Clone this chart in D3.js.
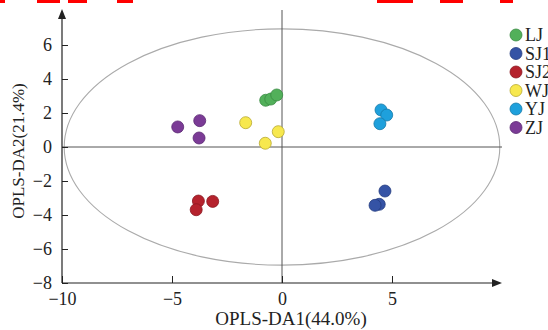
<!DOCTYPE html>
<html><head><meta charset="utf-8">
<script src="https://cdn.jsdelivr.net/npm/d3@7"></script>
<style>body{margin:0;background:#fff}svg{display:block}text{font-family:"Liberation Serif","Times New Roman",serif;fill:#222}</style>
</head><body><svg id="c" width="548" height="330"></svg>
<script>
const groups = ["LJ","SJ1","SJ2","WJ","YJ","ZJ"];
const colors = ["#52b05a","#3553a5","#b5222d","#f7e84e","#1ea0dc","#7b3b96"];
const strokes = ["#3a8a42","#243c80","#8a1620","#b8a830","#1478a8","#5a2872"];
const xs = {
  LJ:[-0.74,-0.51,-0.24], SJ1:[4.68,4.42,4.23], SJ2:[-3.80,-3.15,-3.90],
  WJ:[-1.65,-0.17,-0.76], YJ:[4.50,4.76,4.45], ZJ:[-4.74,-3.74,-3.77]
};
const ys = {
  LJ:[2.75,2.82,3.06], SJ1:[-2.59,-3.37,-3.43], SJ2:[-3.18,-3.20,-3.69],
  WJ:[1.43,0.90,0.22], YJ:[2.18,1.88,1.37], ZJ:[1.18,1.55,0.53]
};
const xTicks = [-10,-5,0,5];
const yTicks = [-8,-6,-4,-2,0,2,4,6];
const ellipseR = [9.9, 6.95];
const xTitle = "OPLS-DA1(44.0%)";
const yTitle = "OPLS-DA2(21.4%)";
const redBars = [[0,5],[37,60],[68,87],[117,133],[377,413],[440,463],[500,513]];

const svg = d3.select("#c");
const x = d3.scaleLinear().domain([-10,10]).range([62,502]);
const y = d3.scaleLinear().domain([-8,8]).range([283,11]);

svg.selectAll("rect.red").data(redBars).join("rect").attr("class","red")
  .attr("x",d=>d[0]).attr("y",0).attr("width",d=>d[1]-d[0]).attr("height",3).attr("fill","#f00");

svg.append("ellipse").attr("cx",x(0)).attr("cy",y(0))
  .attr("rx",x(ellipseR[0])-x(0)).attr("ry",y(0)-y(ellipseR[1]))
  .attr("fill","none").attr("stroke","#aaa").attr("stroke-width",1.1);

svg.append("line").attr("x1",x(0)).attr("x2",x(0)).attr("y1",y(8)-1).attr("y2",y(-8))
  .attr("stroke","#555").attr("stroke-width",1);
svg.append("line").attr("x1",x(-10)).attr("x2",x(10)).attr("y1",y(0)).attr("y2",y(0))
  .attr("stroke","#555").attr("stroke-width",1);

const xAxis = d3.axisBottom(x).tickValues(xTicks).tickSizeInner(-7).tickSizeOuter(0)
  .tickFormat(d=>d<0?"\u2212"+Math.abs(d):d).tickPadding(9);
const gx = svg.append("g").attr("transform",`translate(0,${y(-8)})`).call(xAxis);
gx.select(".domain").attr("d",`M${x(-10)},0H${x(10)-8}`).attr("stroke","#222").attr("stroke-width",1.2);
gx.selectAll(".tick line").attr("stroke","#222");
gx.selectAll("text").attr("font-size",18).attr("font-family","Liberation Serif").attr("fill","#222");

const yAxis = d3.axisLeft(y).tickValues(yTicks).tickSizeInner(-6).tickSizeOuter(0)
  .tickFormat(d=>d<0?"\u2212"+Math.abs(d):d).tickPadding(10);
const gy = svg.append("g").attr("transform",`translate(${x(-10)},0)`).call(yAxis);
gy.select(".domain").attr("d",`M0,${y(-8)}V${y(8)+8}`).attr("stroke","#222").attr("stroke-width",1.2);
gy.selectAll(".tick line").attr("stroke","#222");
gy.selectAll("text").attr("font-size",18).attr("font-family","Liberation Serif").attr("fill","#222");

svg.append("path").attr("d",`M${x(-10)},${y(8)-2}l-4,10h8z`).attr("fill","#222");
svg.append("path").attr("d",`M${x(10)},${y(-8)}l-10,-4v8z`).attr("fill","#222");

groups.forEach((g,i)=>{
  svg.selectAll("circle.p"+i).data(d3.range(xs[g].length)).join("circle")
    .attr("cx",j=>x(xs[g][j])).attr("cy",j=>y(ys[g][j])).attr("r",6)
    .attr("fill",colors[i]).attr("stroke",strokes[i]).attr("stroke-width",0.8);
});

const lg = svg.append("g");
groups.forEach((g,i)=>{
  const yy = 35 + i*18.5;
  lg.append("circle").attr("cx",516).attr("cy",yy).attr("r",6)
    .attr("fill",colors[i]).attr("stroke",strokes[i]).attr("stroke-width",0.8);
  lg.append("text").attr("x",525).attr("y",yy+6).attr("font-size",18).text(g);
});

svg.append("text").attr("x",291).attr("y",325).attr("text-anchor","middle")
  .attr("font-size",19).text(xTitle);
svg.append("text").attr("transform","translate(24,151) rotate(-90)").attr("text-anchor","middle")
  .attr("font-size",17).text(yTitle);
</script></body></html>
